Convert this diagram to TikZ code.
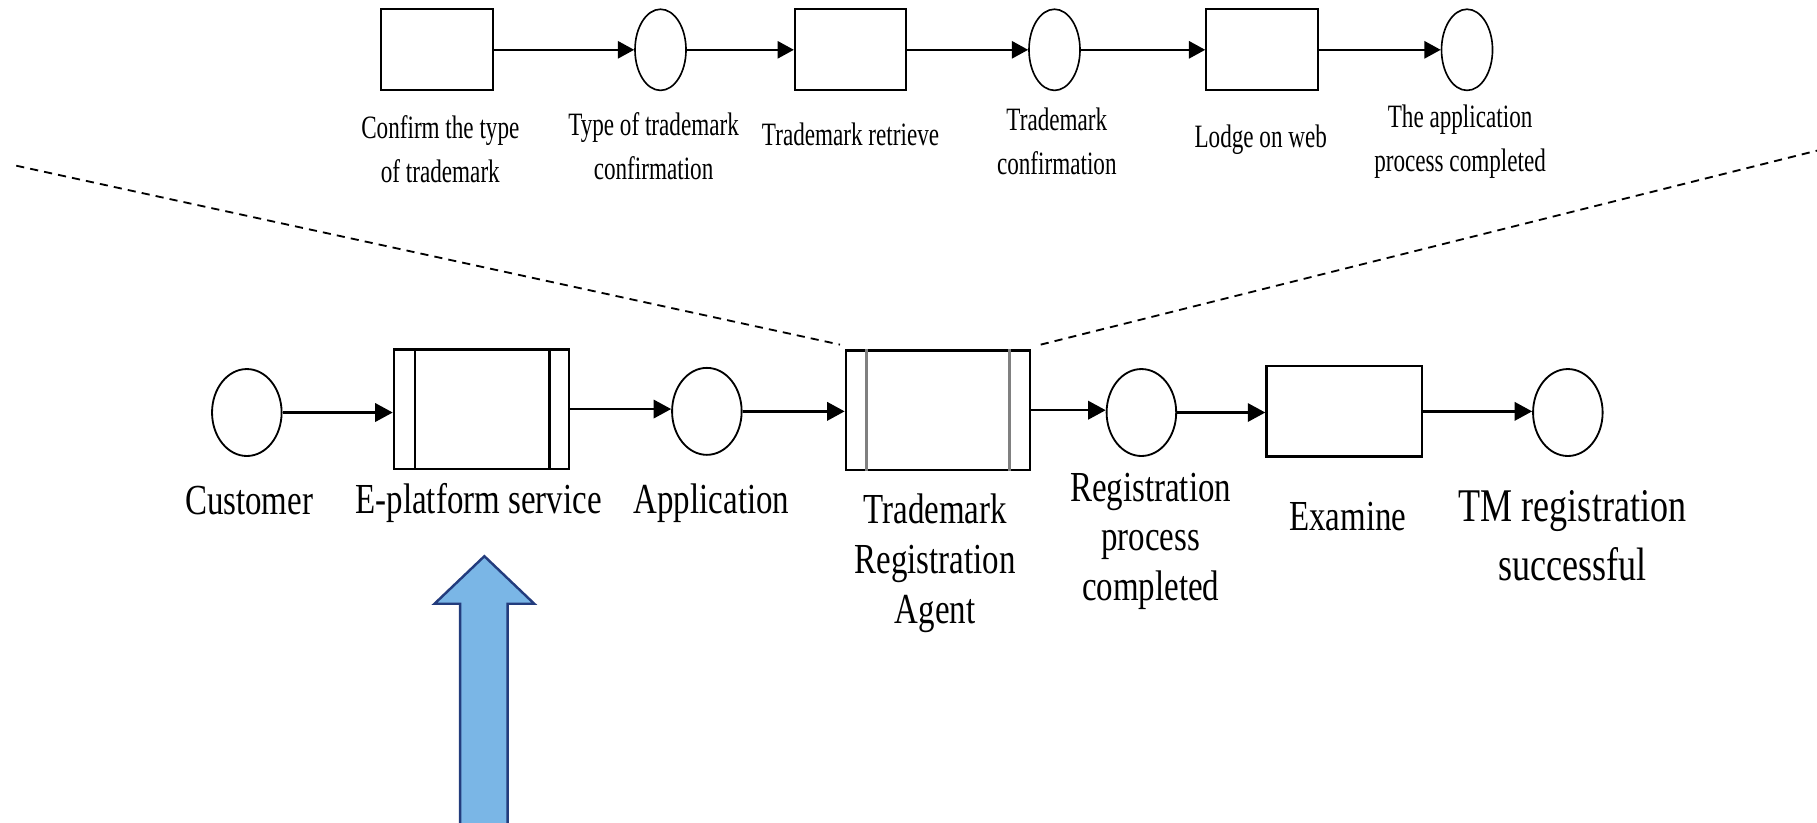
\documentclass[tikz,border=0pt]{standalone}
\usepackage{fontspec}
\setmainfont{Liberation Serif}
\newfontfamily\topf[FakeStretch=0.71]{Liberation Serif}
\newfontfamily\botf[FakeStretch=0.77]{Liberation Serif}
\usetikzlibrary{arrows.meta,shapes.geometric}
\definecolor{arrowfill}{RGB}{122,182,230}
\definecolor{arrowline}{RGB}{35,60,125}
\begin{document}
\begin{tikzpicture}[x=0.01cm,y=-0.01cm,
  tbox/.style={draw,line width=0.5pt,minimum width=0.96cm,minimum height=0.70cm,inner sep=0},
  tcirc/.style={draw,ellipse,line width=0.4pt,minimum width=0.44cm,minimum height=0.70cm,inner sep=0},
  bcirc/.style={draw,ellipse,line width=0.45pt,minimum width=0.60cm,minimum height=0.75cm,inner sep=0},
  bbox/.style={draw,line width=0.6pt,inner sep=0},
  tarrow/.style={-{Triangle[length=4pt,width=4.2pt]},line width=0.6pt},
  barrow/.style={-{Triangle[length=4.3pt,width=4.5pt]},line width=0.6pt},
  tlab/.style={font=\topf\fontsize{8}{10.8}\selectfont,align=center,inner sep=0},
  blab/.style={font=\botf\fontsize{10.5}{12.2}\selectfont,align=center,inner sep=0},
  zoomline/.style={dashed,dash pattern=on 2pt off 1.5pt,line width=0.45pt},
  bigarrow/.style={fill=arrowfill,draw=arrowline,line width=0.6pt,line join=miter}
]
\useasboundingbox (0,0) rectangle (1568,710);

% top row
\node[tbox]  (t1) at (377,43) {};
\node[tcirc] (t2) at (570,43) {};
\node[tbox]  (t3) at (734,43) {};
\node[tcirc] (t4) at (910,43) {};
\node[tbox]  (t5) at (1089,43) {};
\node[tcirc] (t6) at (1266,43) {};

\draw[tarrow] (t1) -- (t2);
\draw[tarrow] (t2) -- (t3);
\draw[tarrow] (t3) -- (t4);
\draw[tarrow] (t4) -- (t5);
\draw[tarrow] (t5) -- (t6);

\node[tlab] (tl1) at (380,129) {Confirm the type\\of trademark};
\node[tlab] (tl2) at (564,126) {Type of trademark\\confirmation};
\node[tlab] (tl3) at (734,116) {Trademark retrieve};
\node[tlab] (tl4) at (912,122) {Trademark\\confirmation};
\node[tlab] (tl5) at (1088,121) {Lodge on web};
\node[tlab] (tl6) at (1260,122) {The application\\process completed};

% bottom row
\node[bcirc] (b1) at (213,356) {};
\node[bbox,minimum width=1.51cm,minimum height=1.03cm] (b2) at (415.5,353) {};
\node[bcirc] (b3) at (610,355) {};
\node[bbox,minimum width=1.59cm,minimum height=1.03cm] (b4) at (809.5,354) {};
\node[bcirc] (b5) at (985,356) {};
\node[bbox,minimum width=1.34cm,minimum height=0.78cm] (b6) at (1160,355) {};
\node[bcirc] (b7) at (1353,356) {};

\draw[line width=0.6pt] ([xshift=0.19cm]b2.north west) -- ([xshift=0.19cm]b2.south west);
\draw[line width=0.6pt] ([xshift=-0.18cm]b2.north east) -- ([xshift=-0.18cm]b2.south east);
\draw[line width=0.7pt,gray] ([xshift=0.19cm]b4.north west) -- ([xshift=0.19cm]b4.south west);
\draw[line width=0.7pt,gray] ([xshift=-0.19cm]b4.north east) -- ([xshift=-0.19cm]b4.south east);

\draw[barrow] (b1) -- (b1 -| b2.west);
\draw[barrow] (b2) -- (b2 -| b3.west);
\draw[barrow] (b3) -- (b3 -| b4.west);
\draw[barrow] (b4) -- (b4 -| b5.west);
\draw[barrow] (b5) -- (b5 -| b6.west);
\draw[barrow] (b6) -- (b6 -| b7.west);

\node[blab] (bl1) at (215,432) {Customer};
\node[blab] (bl2) at (413,434) {E-platform service};
\node[blab] (bl3) at (614,434) {Application};
\node[blab] (bl4) at (807,486) {Trademark\\Registration\\Agent};
\node[blab] (bl5) at (993,467) {Registration\\process\\completed};
\node[blab] (bl6) at (1163,446) {Examine};
\node[blab,font=\botf\fontsize{11.5}{14.5}\selectfont] (bl7) at (1357,462) {TM registration\\successful};

% zoom lines
\coordinate (zl) at (14,143);
\coordinate (zr) at (1568,130);
\draw[zoomline] (zl) -- ([shift={(-4,-4)}]b4.north west);
\draw[zoomline] ([shift={(8,-4)}]b4.north east) -- (zr);

% big blue arrow
\draw[bigarrow] (397,712) -- (397,521) -- (375,521) -- (418,480) -- (461,521) -- (438,521) -- (438,712);
\end{tikzpicture}
\end{document}
